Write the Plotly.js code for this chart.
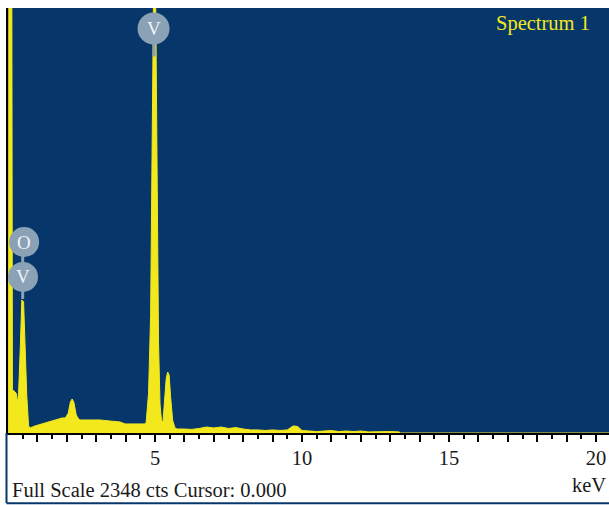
<!DOCTYPE html>
<html>
<head>
<meta charset="utf-8">
<script src="https://cdn.plot.ly/plotly-3.0.1.min.js"></script>
<style>html,body{margin:0;padding:0;background:#fff;}#chart{width:609px;height:505px;}</style>
</head>
<body>
<div id="chart"></div>
<script>
// Energy (keV) and counts
const energy = [0.00,0.02,0.03,0.13,0.15,0.22,0.28,0.32,0.36,0.42,0.47,0.53,0.58,0.64,0.70,0.75,0.92,1.16,1.43,1.67,1.84,1.95,2.05,2.12,2.18,2.24,2.32,2.40,2.45,2.79,3.13,3.47,3.81,3.98,4.49,4.66,4.70,4.78,4.85,4.90,4.95,5.02,5.07,5.12,5.17,5.22,5.27,5.32,5.38,5.43,5.48,5.53,5.60,5.68,5.75,6.00,6.25,6.50,6.75,7.00,7.25,7.50,7.75,8.00,8.25,8.50,8.75,9.00,9.25,9.50,9.70,9.85,10.00,10.25,10.50,10.75,11.00,11.25,11.50,11.75,12.00,12.25,12.50,12.75,13.00,13.30,13.35,20.44];
const counts = [0,0,2500,2500,240,226,220,166,220,480,735,725,480,200,40,28,39,50,61,72,83,83,110,170,188,170,100,77,72,72,72,66,61,50,50,50,60,220,650,1500,2450,2450,1500,500,160,70,60,150,300,337,320,200,70,28,22,22,20,25,33,28,33,25,30,22,17,17,14,17,14,17,39,36,14,11,8,11,14,8,11,8,11,6,8,6,8,6,0,0];

const tickVals = [1,2,3,4,5,6,7,8,9,10,11,12,13,14,15,16,17,18,19,20];
const tickText = ["","","","","5","","","","","10","","","","","15","","","","","20"];
const minorVals = [0.5,1.5,2.5,3.5,4.5,5.5,6.5,7.5,8.5,9.5,10.5,11.5,12.5,13.5,14.5,15.5,16.5,17.5,18.5,19.5];

// Element labels: [text, keV, counts, radius px]
const labels = [["V",4.95,2235,16],["O",0.55,1055,15],["V",0.51,862,15]];

const BLUE = "#07376a";
const YEL = "#f3e81b";
const BADGE = "#8ba1b6";
const FONT = "Liberation Serif, Times New Roman, serif";

const shapes = [];
const annotations = [];

// stems
shapes.push({type:"line",xref:"x",yref:"y",x0:4.97,x1:4.97,y0:2150,y1:2080,line:{color:BADGE,width:3}});
shapes.push({type:"line",xref:"x",yref:"y",x0:0.50,x1:0.50,y0:1000,y1:740,line:{color:BADGE,width:3}});

labels.forEach(l => {
  shapes.push({type:"circle",xref:"x",yref:"y",xsizemode:"pixel",ysizemode:"pixel",
    xanchor:l[1],yanchor:l[2],x0:-l[3],x1:l[3],y0:-l[3],y1:l[3],
    fillcolor:BADGE,line:{width:0}});
  annotations.push({xref:"x",yref:"y",x:l[1],y:l[2],text:l[0],showarrow:false,
    font:{family:FONT,size:19,color:"#f2f4f7"},xanchor:"center",yanchor:"middle"});
});

// frame of lower info panel
shapes.push({type:"line",xref:"paper",yref:"paper",x0:-0.0025,x1:-0.0025,y0:0,y1:-0.165,line:{color:BLUE,width:2}});
shapes.push({type:"line",xref:"paper",yref:"paper",x0:-0.0025,x1:1.0,y0:-0.165,y1:-0.165,line:{color:BLUE,width:2}});

annotations.push({xref:"paper",yref:"paper",x:0.972,y:0.963,text:"Spectrum 1",showarrow:false,
  xanchor:"right",yanchor:"middle",font:{family:FONT,size:20.5,color:YEL}});
annotations.push({xref:"paper",yref:"paper",x:0.004,y:-0.134,text:"Full Scale 2348 cts Cursor: 0.000",showarrow:false,
  xanchor:"left",yanchor:"middle",font:{family:FONT,size:20.5,color:"#1a1a1a"}});
annotations.push({xref:"paper",yref:"paper",x:0.998,y:-0.122,text:"keV",showarrow:false,
  xanchor:"right",yanchor:"middle",font:{family:FONT,size:20.5,color:"#1a1a1a"}});

const trace = {x:energy,y:counts,type:"scatter",mode:"lines",fill:"tozeroy",
  fillcolor:YEL,line:{color:YEL,width:1},hoverinfo:"x+y"};

const layout = {
  width:609,height:505,
  margin:{l:8,r:0,t:8,b:72,pad:0},
  paper_bgcolor:"#ffffff",plot_bgcolor:BLUE,
  showlegend:false,
  xaxis:{range:[0,20.44],showgrid:false,zeroline:false,showline:true,linecolor:"#000",linewidth:2,
    tickmode:"array",tickvals:tickVals,ticktext:tickText,ticks:"outside",ticklen:7,tickwidth:2,tickcolor:"#000",
    ticklabelstandoff:-2,
    minor:{tickmode:"array",tickvals:minorVals,ticks:"outside",ticklen:4,tickwidth:2,tickcolor:"#000"},
    tickfont:{family:FONT,size:20.5,color:"#1a1a1a"},fixedrange:true},
  yaxis:{range:[0,2348],showgrid:false,zeroline:false,showline:true,linecolor:"#000",linewidth:2,
    showticklabels:false,ticks:"",fixedrange:true},
  shapes:shapes,annotations:annotations
};

Plotly.newPlot("chart",[trace],layout,{displayModeBar:false,staticPlot:true});
</script>
</body>
</html>
